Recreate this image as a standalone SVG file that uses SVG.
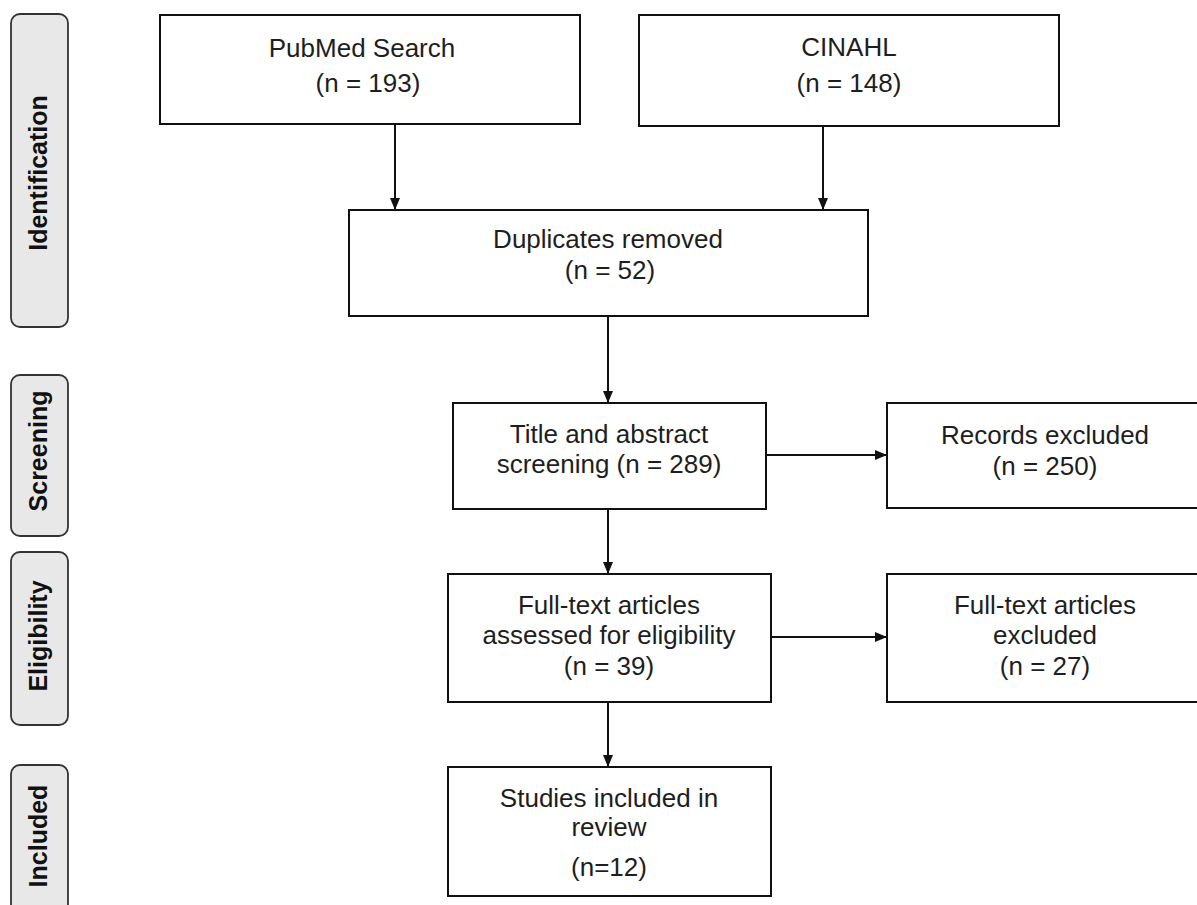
<svg xmlns="http://www.w3.org/2000/svg" width="1197" height="905" viewBox="0 0 1197 905">
<style>
.bg{fill:#ffffff}
.box{fill:#ffffff;stroke:#111;stroke-width:2}
.phase{fill:#e8e8e8;stroke:#333;stroke-width:1.8}
.t{font-family:"Liberation Sans",Arial,sans-serif;font-size:26px;fill:#1e1e1e;text-anchor:middle}
.pt{font-family:"Liberation Sans",Arial,sans-serif;font-size:25px;font-weight:bold;fill:#111;text-anchor:middle}
.c{stroke:#111;stroke-width:2;fill:none;marker-end:url(#ah)}
</style>
<defs>
<marker id="ah" markerWidth="12" markerHeight="12" viewBox="0 0 12 12" refX="12" refY="6" orient="auto" markerUnits="userSpaceOnUse">
<path d="M0,1 L12,6 L0,11 Z" fill="#111"/>
</marker>
</defs>
<rect class="bg" x="0" y="0" width="1197" height="905"/>

<g id="phase-identification">
<rect class="phase" x="11" y="14" width="57" height="313" rx="9"/>
<text class="pt" transform="translate(47,173) rotate(-90)">Identification</text>
</g>
<g id="phase-screening">
<rect class="phase" x="11" y="375" width="57" height="161" rx="9"/>
<text class="pt" transform="translate(47,451) rotate(-90)">Screening</text>
</g>
<g id="phase-eligibility">
<rect class="phase" x="11" y="552" width="57" height="173" rx="9"/>
<text class="pt" transform="translate(47,636) rotate(-90)">Eligibility</text>
</g>
<g id="phase-included">
<rect class="phase" x="11" y="765" width="57" height="160" rx="9"/>
<text class="pt" transform="translate(47,836) rotate(-90)">Included</text>
</g>

<g id="pubmed">
<rect class="box" x="160" y="15" width="420" height="109"/>
<text class="t" x="362" y="57">PubMed Search</text>
<text class="t" x="368" y="92">(n = 193)</text>
</g>
<g id="cinahl">
<rect class="box" x="639" y="15" width="420" height="111"/>
<text class="t" x="849" y="56">CINAHL</text>
<text class="t" x="849" y="92">(n = 148)</text>
</g>
<g id="duplicates">
<rect class="box" x="349" y="210" width="519" height="106"/>
<text class="t" x="608" y="248">Duplicates removed</text>
<text class="t" x="610" y="279">(n = 52)</text>
</g>
<g id="title-abstract">
<rect class="box" x="453" y="403" width="313" height="106"/>
<text class="t" x="609" y="443">Title and abstract</text>
<text class="t" x="609" y="473">screening (n = 289)</text>
</g>
<g id="records-excluded">
<rect class="box" x="887" y="403" width="316" height="105"/>
<text class="t" x="1045" y="444">Records excluded</text>
<text class="t" x="1045" y="475">(n = 250)</text>
</g>
<g id="fulltext-assessed">
<rect class="box" x="448" y="574" width="323" height="128"/>
<text class="t" x="609" y="614">Full-text articles</text>
<text class="t" x="609" y="644">assessed for eligibility</text>
<text class="t" x="609" y="675">(n = 39)</text>
</g>
<g id="fulltext-excluded">
<rect class="box" x="887" y="574" width="316" height="128"/>
<text class="t" x="1045" y="614">Full-text articles</text>
<text class="t" x="1045" y="644">excluded</text>
<text class="t" x="1045" y="675">(n = 27)</text>
</g>
<g id="studies-included">
<rect class="box" x="448" y="767" width="323" height="129"/>
<text class="t" x="609" y="807">Studies included in</text>
<text class="t" x="609" y="836">review</text>
<text class="t" x="609" y="876">(n=12)</text>
</g>

<g id="connectors">
<line class="c" x1="395" y1="124" x2="395" y2="210"/>
<line class="c" x1="823" y1="126" x2="823" y2="210"/>
<line class="c" x1="608" y1="316" x2="608" y2="403"/>
<line class="c" x1="766" y1="455" x2="887" y2="455"/>
<line class="c" x1="608" y1="509" x2="608" y2="574"/>
<line class="c" x1="771" y1="637" x2="887" y2="637"/>
<line class="c" x1="608" y1="702" x2="608" y2="767"/>
</g>
</svg>
